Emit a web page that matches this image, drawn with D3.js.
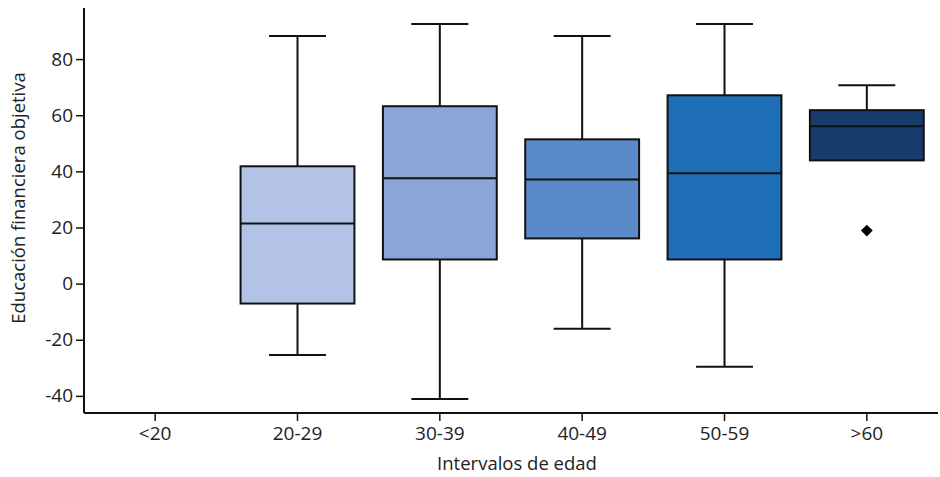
<!DOCTYPE html>
<html>
<head>
<meta charset="utf-8">
<script src="https://cdn.jsdelivr.net/npm/d3@7"></script>
<style>
  body { margin: 0; background: #fff; }
  text { font-family: "Open Sans", "Noto Sans", sans-serif; fill: #222; }
</style>
</head>
<body>
<div id="chart"></div>
<script>
// Age groups and box summaries
const groups = ["<20", "20-29", "30-39", "40-49", "50-59", ">60"];
const whiskerHigh = [null, 88.2, 92.5, 88.2, 92.5, 70.7];
const q3 = [null, 41.8, 63.2, 51.4, 67.1, 61.8];
const median = [null, 21.4, 37.5, 37.1, 39.3, 56.1];
const q1 = [null, -7.1, 8.6, 16.1, 8.6, 43.9];
const whiskerLow = [null, -25.4, -41.1, -16.1, -29.6, 43.9];
const outliers = [[], [], [], [], [], [18.9]];
const colors = ["#ffffff", "#b3c3e6", "#8aa6d6", "#5b8ac8", "#1f6fb7", "#173c6b"];
const yTicks = [-40, -20, 0, 20, 40, 60, 80];

const W = 940, H = 477;
const margin = { top: 8, right: 2, bottom: 64, left: 84 };
const width = W - margin.left - margin.right;
const height = H - margin.top - margin.bottom;

const svg = d3.select("#chart").append("svg")
    .attr("width", W)
    .attr("height", H);

const g = svg.append("g")
    .attr("transform", `translate(${margin.left},${margin.top})`);

const x = d3.scaleBand()
    .domain(groups)
    .range([0, width])
    .paddingInner(0.2)
    .paddingOuter(0.1);

const y = d3.scaleLinear()
    .domain([-46.1, 98.2])
    .range([height, 0]);

const boxes = groups.map((k, i) => ({
    key: k, hi: whiskerHigh[i], q3: q3[i], med: median[i], q1: q1[i], lo: whiskerLow[i],
    out: outliers[i], color: colors[i]
})).filter(d => d.med !== null);

const bw = x.bandwidth();
const capW = bw * 0.5;

const box = g.selectAll(".box")
    .data(boxes)
    .enter()
    .append("g")
    .attr("class", "box")
    .attr("transform", d => `translate(${x(d.key)},0)`);

// whiskers
box.append("line")
    .attr("x1", bw / 2).attr("x2", bw / 2)
    .attr("y1", d => y(d.hi)).attr("y2", d => y(d.q3))
    .attr("stroke", "#111").attr("stroke-width", 2);
box.append("line")
    .attr("x1", bw / 2).attr("x2", bw / 2)
    .attr("y1", d => y(d.q1)).attr("y2", d => y(d.lo))
    .attr("stroke", "#111").attr("stroke-width", 2);
box.append("line")
    .attr("x1", (bw - capW) / 2).attr("x2", (bw + capW) / 2)
    .attr("y1", d => y(d.hi)).attr("y2", d => y(d.hi))
    .attr("stroke", "#111").attr("stroke-width", 2);
box.filter(d => d.lo < d.q1).append("line")
    .attr("x1", (bw - capW) / 2).attr("x2", (bw + capW) / 2)
    .attr("y1", d => y(d.lo)).attr("y2", d => y(d.lo))
    .attr("stroke", "#111").attr("stroke-width", 2);

// box
box.append("rect")
    .attr("x", 0)
    .attr("width", bw)
    .attr("y", d => y(d.q3))
    .attr("height", d => y(d.q1) - y(d.q3))
    .attr("fill", d => d.color)
    .attr("stroke", "#111")
    .attr("stroke-width", 2);

// median
box.append("line")
    .attr("x1", 0).attr("x2", bw)
    .attr("y1", d => y(d.med)).attr("y2", d => y(d.med))
    .attr("stroke", "#111").attr("stroke-width", 2);

// outliers as diamonds
box.selectAll(".out")
    .data(d => d.out)
    .enter()
    .append("path")
    .attr("class", "out")
    .attr("d", d3.symbol(d3.symbolDiamond2, 90))
    .attr("transform", v => `translate(${bw / 2},${y(v)})`)
    .attr("fill", "#000");

// axes
const yAxis = g.append("g")
    .call(d3.axisLeft(y).tickValues(yTicks).tickFormat(d => String(d)).tickSize(8).tickPadding(3));
const xAxis = g.append("g")
    .attr("transform", `translate(0,${height})`)
    .call(d3.axisBottom(x).tickSize(8).tickPadding(6));

[yAxis, xAxis].forEach(a => {
    a.select(".domain").attr("stroke", "#111").attr("stroke-width", 2);
    a.selectAll(".tick line").attr("stroke", "#111").attr("stroke-width", 1.5);
    a.selectAll(".tick text").attr("font-size", 19).attr("fill", "#222");
});
xAxis.select(".domain").attr("d", `M0,0H${width}`);
yAxis.select(".domain").attr("d", `M0,0V${height}`);

// axis titles
svg.append("text")
    .attr("x", 517)
    .attr("y", 470)
    .attr("text-anchor", "middle")
    .attr("font-size", 18.5)
    .text("Intervalos de edad");

svg.append("text")
    .attr("transform", `translate(25,198) rotate(-90)`)
    .attr("text-anchor", "middle")
    .attr("font-size", 18.5)
    .text("Educación financiera objetiva");
</script>
</body>
</html>
